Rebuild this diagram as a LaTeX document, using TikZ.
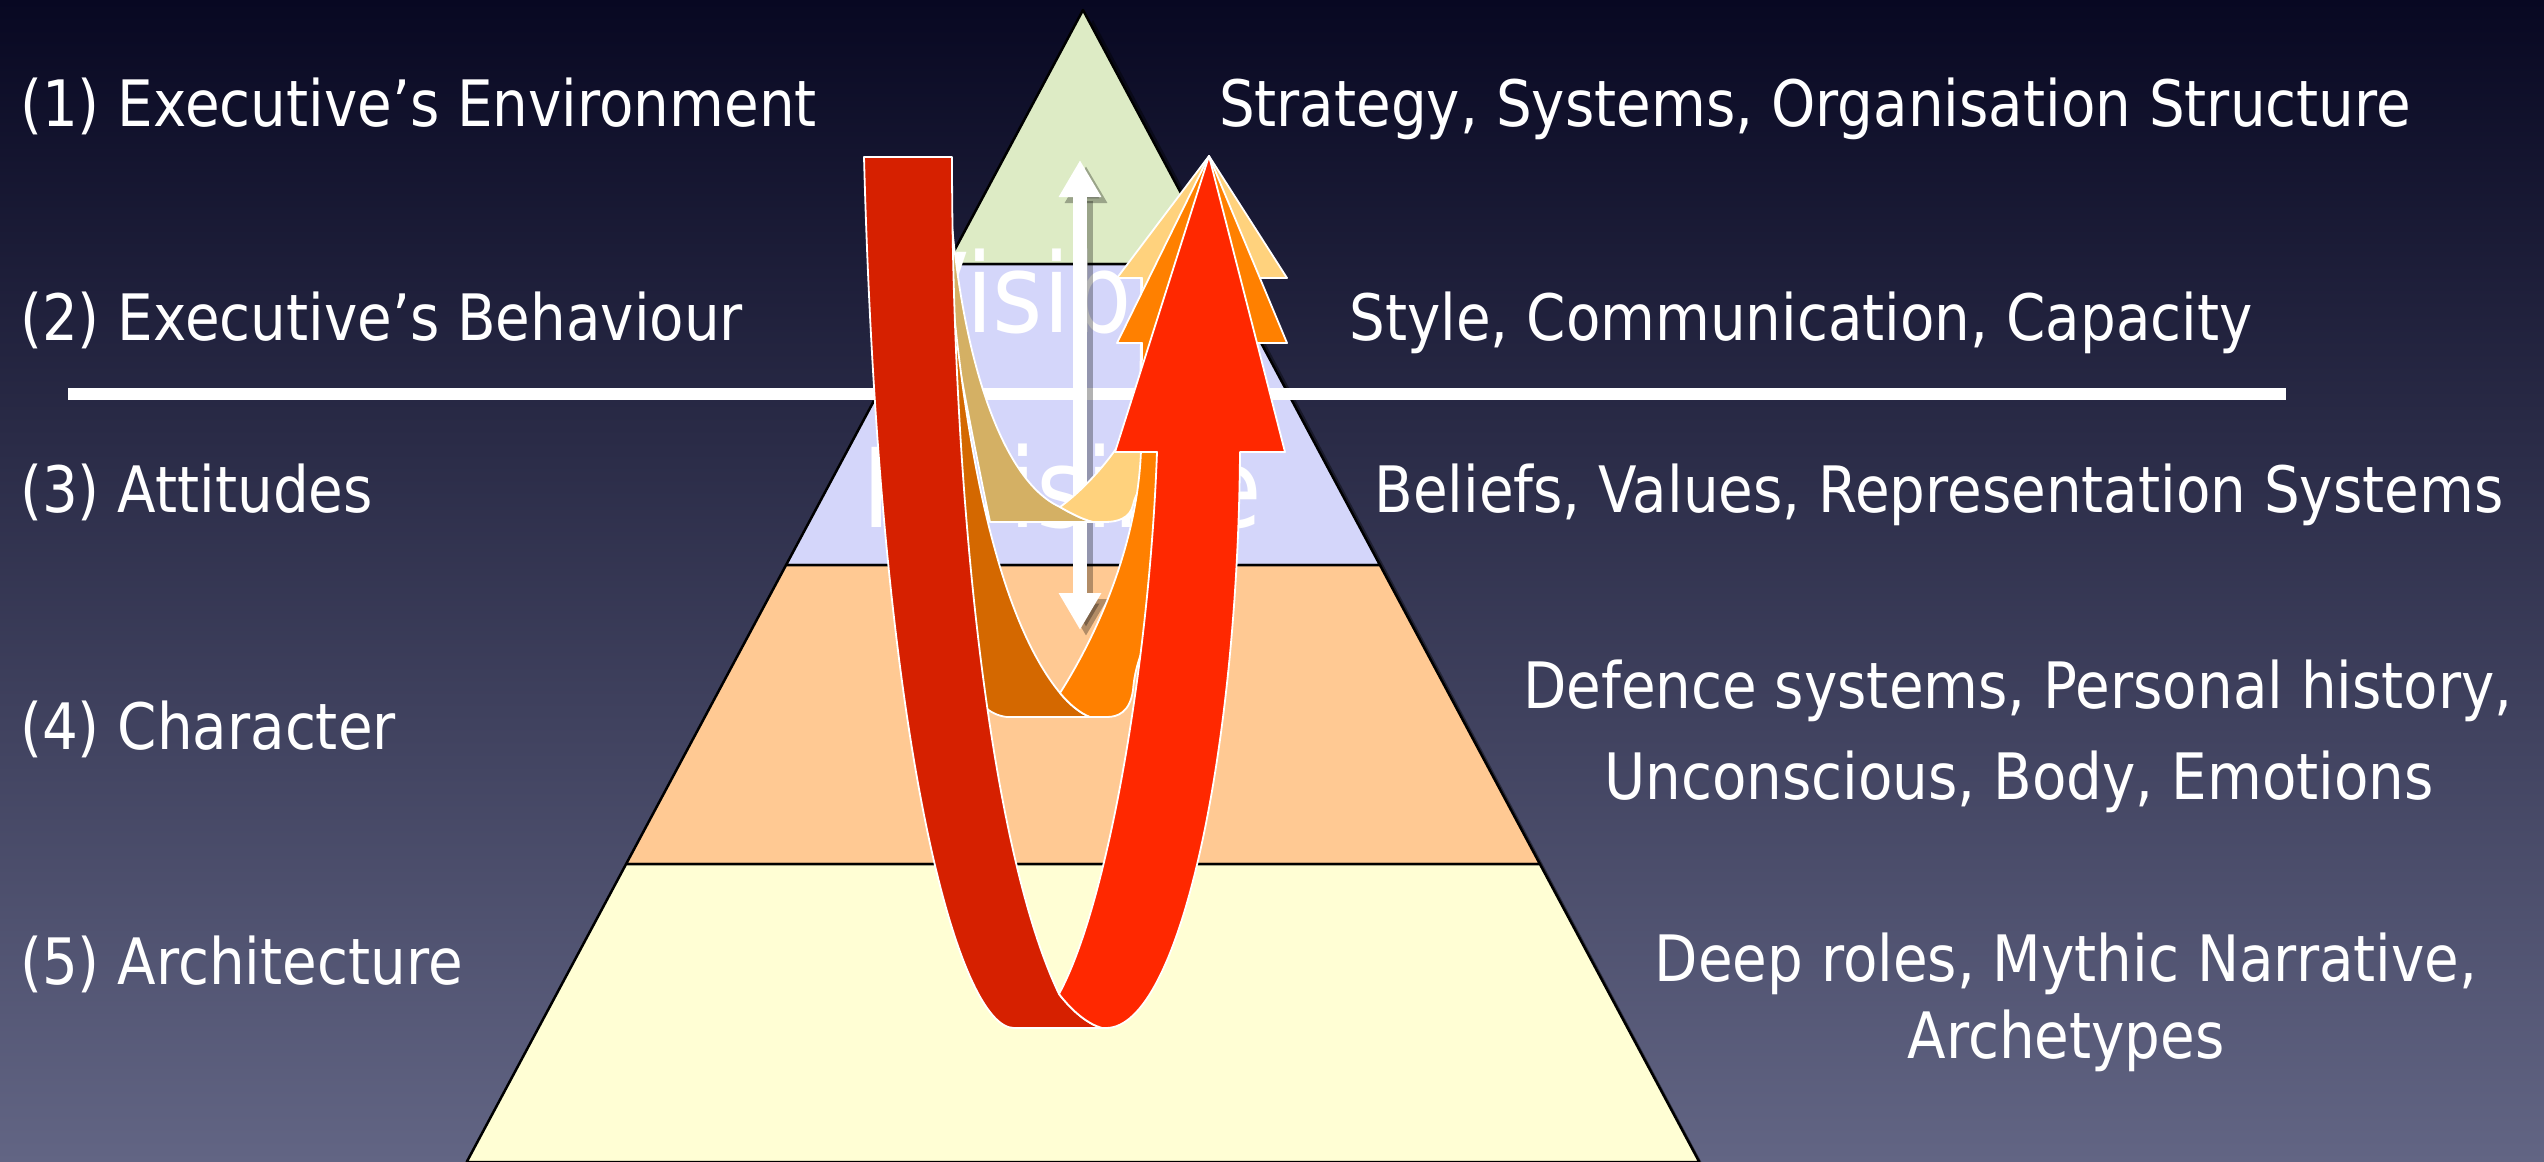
\documentclass[tikz,border=0pt]{standalone}
\usepackage{fontspec}
\setmainfont{DejaVu Sans}[FakeStretch=0.88]
\usetikzlibrary{arrows.meta}

\definecolor{bgtop}{RGB}{8,8,34}
\definecolor{bgmid}{RGB}{34,36,68}
\definecolor{bgbot}{RGB}{98,101,132}
\definecolor{pgreen}{RGB}{221,235,197}
\definecolor{plav}{RGB}{212,214,250}
\definecolor{ppeach}{RGB}{255,201,147}
\definecolor{pyellow}{RGB}{255,254,212}
\definecolor{redL}{RGB}{214,32,0}
\definecolor{redR}{RGB}{255,40,0}
\definecolor{orL}{RGB}{212,104,0}
\definecolor{orR}{RGB}{255,128,0}
\definecolor{tanL}{RGB}{212,176,100}
\definecolor{tanR}{RGB}{255,210,125}

\begin{document}
\begin{tikzpicture}[x=1pt,y=-1pt]
    % Define styles for texts and ribbons
    \tikzstyle{lbl}=[text=white,inner sep=0pt,font=\fontsize{64}{76}\selectfont]
    \tikzstyle{big}=[text=white,inner sep=0pt,anchor=base,font=\fontsize{110}{120}\selectfont]
    \tikzstyle{ribbon}=[draw=white,line width=1.8pt,line join=round]

    \useasboundingbox (0,0) rectangle (2544,1162);
    \clip (0,0) rectangle (2544,1162);

    % Background
    \shade[top color=bgtop,middle color=bgmid,bottom color=bgbot] (0,0) rectangle (2544,1162);

    % Pyramid: shadow, then the four layers
    \fill[black,opacity=0.4] (1093,20) -- (1711,1180) -- (478,1180) -- cycle;
    \foreach \ya/\yb/\col in {10/264/pgreen, 264/565/plav, 565/864/ppeach, 864/1162/pyellow}{
        \pgfmathsetmacro{\la}{1083-0.535*(\ya-10)}
        \pgfmathsetmacro{\ra}{1083+0.535*(\ya-10)}
        \pgfmathsetmacro{\lb}{1083-0.535*(\yb-10)}
        \pgfmathsetmacro{\rb}{1083+0.535*(\yb-10)}
        \filldraw[fill=\col,draw=black,line width=2.5pt,line join=round]
            (\la,\ya) -- (\ra,\ya) -- (\rb,\yb) -- (\lb,\yb) -- cycle;
    }

    % Visible / invisible line
    \coordinate (sepL) at (68,394);
    \coordinate (sepR) at (2286,394);
    \draw[white,line width=12pt] (sepL) -- (sepR);

    \node[big] (vis) at (1060,332) {Visible};
    \node[big] (invis) at (1062,527) {Invisible};

    % Double arrow between the two levels
    \coordinate (vtop) at (1080,160);
    \coordinate (vbot) at (1080,630);
    \draw[black,opacity=0.3,line width=14pt,transform canvas={shift={(6pt,-6pt)}},
        {Triangle[length=37pt,width=40pt]}-{Triangle[length=37pt,width=40pt]}] (vtop) -- (vbot);
    \draw[white,line width=14pt,
        {Triangle[length=37pt,width=40pt]}-{Triangle[length=37pt,width=40pt]}] (vtop) -- (vbot);

    % Ribbon 1: tan (shallow)
    \path[ribbon,fill=tanL] (925,157) -- (945,157) -- (950,200)
        .. controls (960,350) and (1000,480) .. (1060,507)
        .. controls (1072,514) and (1082,519) .. (1093,522)
        -- (990,522)
        .. controls (975,450) and (945,300) .. (925,157) -- cycle;
    \path[ribbon,fill=tanR] (1060,507)
        .. controls (1090,485) and (1130,440) .. (1140,400) -- (1142,278)
        -- (1117,278) -- (1209,156) -- (1287,278) -- (1240,278) -- (1238,380)
        .. controls (1200,440) and (1140,470) .. (1133,505)
        .. controls (1130,518) and (1118,522) .. (1105,522)
        -- (1093,522) .. controls (1082,519) and (1072,514) .. (1060,507) -- cycle;

    % Ribbon 2: orange (middle)
    \path[ribbon,fill=orL] (920,157) -- (945,157) -- (945,200)
        .. controls (960,450) and (1000,620) .. (1060,693)
        .. controls (1070,705) and (1080,713) .. (1090,717)
        -- (1007,717)
        .. controls (998,716) and (990,712) .. (985,707)
        .. controls (965,600) and (935,400) .. (920,157) -- cycle;
    \path[ribbon,fill=orR] (1060,693)
        .. controls (1100,630) and (1138,540) .. (1141,450) -- (1142,343)
        -- (1117,343) -- (1209,156) -- (1287,343) -- (1240,343) -- (1238,452)
        .. controls (1236,560) and (1140,600) .. (1133,690)
        .. controls (1130,712) and (1118,717) .. (1107,717)
        -- (1090,717) .. controls (1080,713) and (1070,705) .. (1060,693) -- cycle;

    % Ribbon 3: red (deep)
    \path[ribbon,fill=redL] (864,157) -- (952,157)
        .. controls (952,500) and (990,850) .. (1059,994)
        .. controls (1073,1012) and (1088,1024) .. (1102,1028)
        -- (1014,1028)
        .. controls (960,1028) and (880,760) .. (864,157) -- cycle;
    \path[ribbon,fill=redR] (1059,994)
        .. controls (1110,900) and (1150,650) .. (1157,452)
        -- (1115,452) -- (1209,156) -- (1285,452) -- (1240,452)
        .. controls (1238,750) and (1180,1028) .. (1106,1028)
        -- (1102,1028) .. controls (1088,1024) and (1073,1012) .. (1059,994) -- cycle;

    % Level names (left)
    \foreach \y/\txt/\nm in {126/{(1) Executive’s Environment}/l1, 340/{(2) Executive’s Behaviour}/l2,
        512/{(3) Attitudes}/l3, 749/{(4) Character}/l4, 984/{(5) Architecture}/l5}{
        \node[lbl,anchor=base west] (\nm) at (20,\y) {\txt};
    }

    % Level contents (right)
    \foreach \x/\y/\txt/\nm in {1815/126/{Strategy, Systems, Organisation Structure}/r1,
        1801/340/{Style, Communication, Capacity}/r2,
        1939/512/{Beliefs, Values, Representation Systems}/r3,
        2018/708/{Defence systems, Personal history,}/r4a,
        2019/799/{Unconscious, Body, Emotions}/r4b,
        2066/981/{Deep roles, Mythic Narrative,}/r5a,
        2066/1058/{Archetypes}/r5b}{
        \node[lbl,anchor=base] (\nm) at (\x,\y) {\txt};
    }
\end{tikzpicture}
\end{document}
